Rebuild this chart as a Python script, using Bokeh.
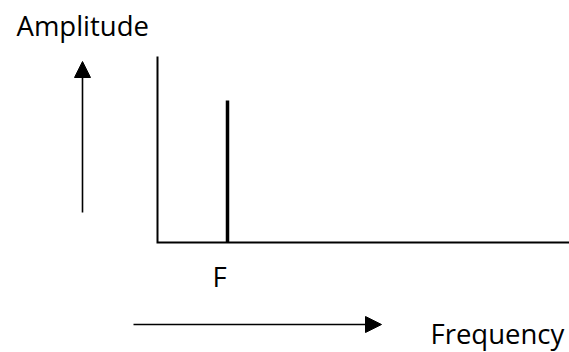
from bokeh.plotting import figure
from bokeh.models import Range1d, Arrow, NormalHead, Label
from bokeh.embed import file_html
from bokeh.resources import INLINE

# Canvas size (pixels); the schematic is laid out in pixel-like data units
W, H = 569, 352

# Schematic data (pixel-scaled data coordinates, y grows downward)
axis_x = [157, 157, 569]
axis_y = [56, 242, 242]
spike_x = [227]
spike_base = [242]
spike_top = [100]
spike_labels = ["F"]
title_labels = ["Amplitude", "Frequency"]

p = figure(width=W, height=H, x_range=Range1d(0, W), y_range=Range1d(H, 0),
           output_backend="svg", toolbar_location=None, min_border=0,
           x_axis_location=None, y_axis_location=None)
p.grid.visible = False
p.outline_line_color = None
p.background_fill_color = "white"
p.border_fill_color = "white"

# Axes lines
p.line(x=axis_x, y=axis_y, line_width=2, line_color="black", line_join="miter")

# Spike
p.segment(x0=spike_x, y0=spike_base, x1=spike_x, y1=spike_top,
          line_width=3.5, line_color="black", line_cap="butt")

# Arrows
p.add_layout(Arrow(end=NormalHead(size=16, fill_color="black", line_color="black", line_width=1),
                   x_start=82, y_start=212, x_end=82, y_end=61,
                   line_width=1.6, line_color="black"))
p.add_layout(Arrow(end=NormalHead(size=16, fill_color="black", line_color="black", line_width=1),
                   x_start=133, y_start=324, x_end=381, y_end=324,
                   line_width=1.6, line_color="black"))

font = "Open Sans"
p.add_layout(Label(x=16, y=25, text=title_labels[0], text_font=font, text_font_size="27.5px",
                   text_baseline="alphabetic", text_color="black"))
p.add_layout(Label(x=spike_x[0] - 15, y=276, text=spike_labels[0], text_font=font, text_font_size="27.5px",
                   text_baseline="alphabetic", text_color="black"))
p.add_layout(Label(x=430, y=333, text=title_labels[1], text_font=font, text_font_size="27.5px",
                   text_baseline="alphabetic", text_color="black"))

open("out.html", "w").write(file_html(p, INLINE))
